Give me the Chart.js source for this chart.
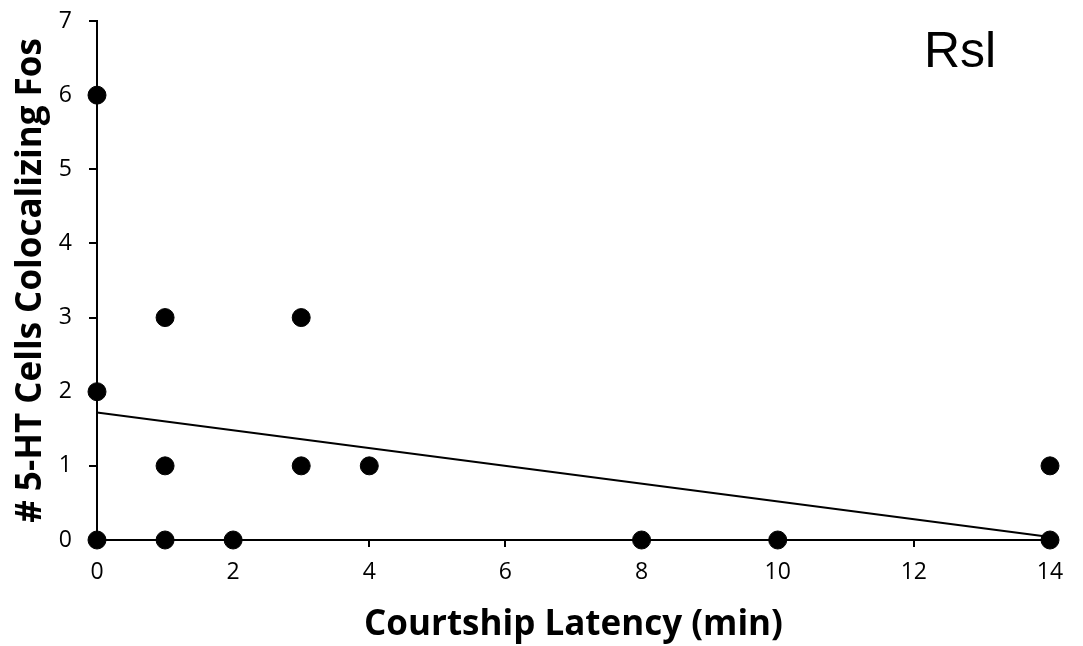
<!DOCTYPE html>
<html>
<head>
<meta charset="utf-8">
<script src="https://cdn.jsdelivr.net/npm/chart.js@4/dist/chart.umd.min.js"></script>
<style>
  html, body { margin: 0; padding: 0; background: #fff; }
  #wrap { width: 1083px; height: 646px; }
</style>
</head>
<body>
<div id="wrap"><canvas id="c" width="1083" height="646"></canvas></div>
<script>
// Data
const latencyX = [0, 0, 0, 1, 1, 1, 2, 3, 3, 4, 8, 10, 14, 14];
const cellsY   = [6, 2, 0, 3, 1, 0, 0, 3, 1, 1, 0, 0, 1, 0];
const trendX = [0, 14];
const trendY = [1.72, 0.04];
const xTicks = [0, 2, 4, 6, 8, 10, 12, 14];
const yTicks = [0, 1, 2, 3, 4, 5, 6, 7];
const panelLabel = 'Rsl';
const xTitle = 'Courtship Latency (min)';
const yTitle = '# 5-HT Cells Colocalizing Fos';

const points = latencyX.map((x, i) => ({ x: x, y: cellsY[i] }));
const trend = trendX.map((x, i) => ({ x: x, y: trendY[i] }));

const labelPlugin = {
  id: 'panelLabel',
  afterDraw(chart) {
    const ctx = chart.ctx;
    const a = chart.chartArea;
    ctx.save();
    ctx.fillStyle = '#000';
    ctx.font = '50px "Liberation Sans", Arial, sans-serif';
    ctx.textAlign = 'center';
    ctx.textBaseline = 'alphabetic';
    ctx.fillText(panelLabel, a.right - 90, a.top + 46);
    ctx.restore();
  }
};

new Chart(document.getElementById('c'), {
  type: 'scatter',
  data: {
    datasets: [
      {
        type: 'line',
        data: trend,
        borderColor: '#000',
        borderWidth: 2,
        pointRadius: 0,
        fill: false,
        order: 2
      },
      {
        data: points,
        backgroundColor: '#000',
        borderColor: '#000',
        pointRadius: 9,
        pointHoverRadius: 9,
        order: 1
      }
    ]
  },
  options: {
    responsive: false,
    animation: false,
    clip: false,
    layout: { padding: { left: 0, right: 33, top: 21, bottom: 0 } },
    plugins: { legend: { display: false }, tooltip: { enabled: false } },
    scales: {
      x: {
        type: 'linear',
        min: 0, max: 14,
        afterBuildTicks(scale) { scale.ticks = xTicks.map(v => ({ value: v })); },
        afterFit(scale) { scale.height = 106; scale.paddingLeft = 0; scale.paddingRight = 0; },
        grid: { drawOnChartArea: false, drawTicks: true, tickLength: 7, color: '#000', lineWidth: 2 },
        border: { display: true, color: '#000', width: 2 },
        ticks: { color: '#000', font: { family: '"Open Sans", sans-serif', size: 23 }, padding: 12, maxRotation: 0 },
        title: { display: true, text: xTitle, color: '#000', font: { family: '"Open Sans", sans-serif', size: 35, weight: 'bold' }, padding: { top: 8, bottom: 0 } }
      },
      y: {
        type: 'linear',
        min: 0, max: 7,
        afterBuildTicks(scale) { scale.ticks = yTicks.map(v => ({ value: v })); },
        afterFit(scale) { scale.width = 97; scale.paddingTop = 0; scale.paddingBottom = 0; },
        grid: { drawOnChartArea: false, drawTicks: true, tickLength: 8, color: '#000', lineWidth: 2 },
        border: { display: true, color: '#000', width: 2 },
        ticks: { color: '#000', font: { family: '"Open Sans", sans-serif', size: 23 }, padding: 17 },
        title: { display: true, text: yTitle, color: '#000', font: { family: '"Open Sans", sans-serif', size: 35, weight: 'bold' }, padding: { top: 10, bottom: 0 } }
      }
    }
  },
  plugins: [labelPlugin]
});
</script>
</body>
</html>
